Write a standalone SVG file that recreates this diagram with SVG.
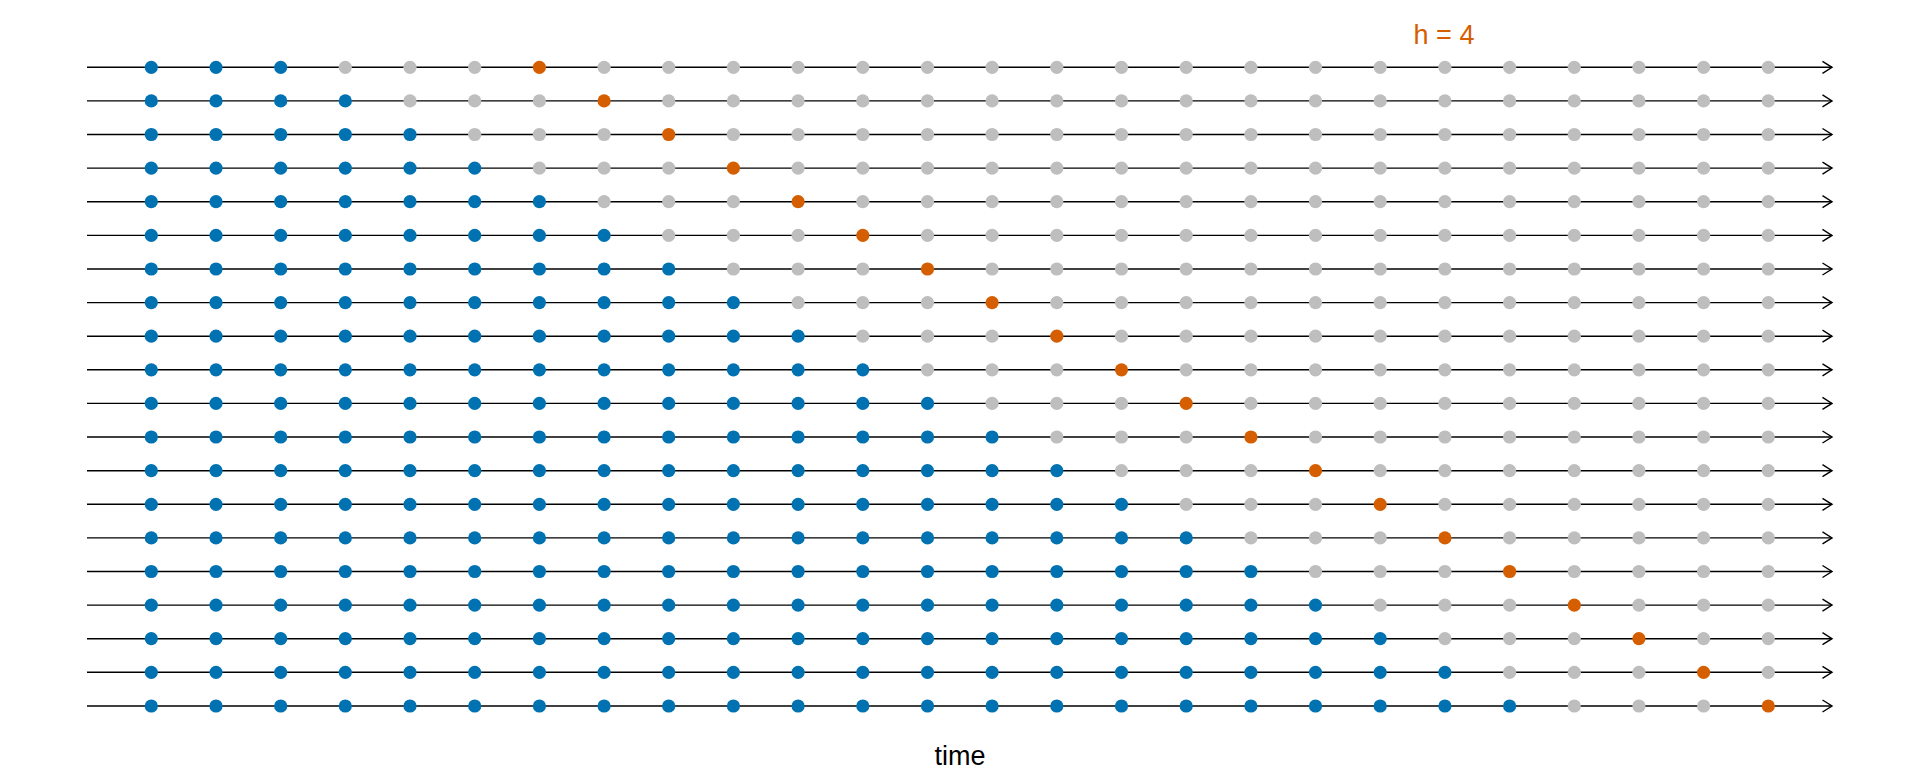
<svg xmlns="http://www.w3.org/2000/svg" width="1920" height="768" viewBox="0 0 1920 768">
<defs>
<style>
.ax{stroke:#000;stroke-width:1.4;fill:none}
.b{fill:#0072B2}
.g{fill:#BEBEBE}
.o{fill:#D55E00}
text{font-family:"Liberation Sans",Arial,sans-serif;font-size:27px;text-anchor:middle}
</style>
<marker id="arr" markerUnits="userSpaceOnUse" markerWidth="14" markerHeight="16" refX="11" refY="8" orient="auto">
<path d="M1.5,2 L11,8 L1.5,14" fill="none" stroke="#000" stroke-width="1.4"/>
</marker>
<circle id="d" r="6.6"/>
</defs>
<rect width="1920" height="768" fill="#fff"/>
<g id="connectors">
<path class="ax" marker-end="url(#arr)" d="M87,67.3H1832"/>
<path class="ax" marker-end="url(#arr)" d="M87,100.9H1832"/>
<path class="ax" marker-end="url(#arr)" d="M87,134.5H1832"/>
<path class="ax" marker-end="url(#arr)" d="M87,168.1H1832"/>
<path class="ax" marker-end="url(#arr)" d="M87,201.7H1832"/>
<path class="ax" marker-end="url(#arr)" d="M87,235.4H1832"/>
<path class="ax" marker-end="url(#arr)" d="M87,269H1832"/>
<path class="ax" marker-end="url(#arr)" d="M87,302.6H1832"/>
<path class="ax" marker-end="url(#arr)" d="M87,336.2H1832"/>
<path class="ax" marker-end="url(#arr)" d="M87,369.8H1832"/>
<path class="ax" marker-end="url(#arr)" d="M87,403.4H1832"/>
<path class="ax" marker-end="url(#arr)" d="M87,437H1832"/>
<path class="ax" marker-end="url(#arr)" d="M87,470.7H1832"/>
<path class="ax" marker-end="url(#arr)" d="M87,504.3H1832"/>
<path class="ax" marker-end="url(#arr)" d="M87,537.9H1832"/>
<path class="ax" marker-end="url(#arr)" d="M87,571.5H1832"/>
<path class="ax" marker-end="url(#arr)" d="M87,605.1H1832"/>
<path class="ax" marker-end="url(#arr)" d="M87,638.7H1832"/>
<path class="ax" marker-end="url(#arr)" d="M87,672.3H1832"/>
<path class="ax" marker-end="url(#arr)" d="M87,706H1832"/>
</g>
<g id="row1" transform="translate(0,67.3)">
<use href="#d" class="b" x="151.3"/><use href="#d" class="b" x="216"/><use href="#d" class="b" x="280.7"/><use href="#d" class="g" x="345.3"/><use href="#d" class="g" x="410"/><use href="#d" class="g" x="474.7"/><use href="#d" class="o" x="539.4"/><use href="#d" class="g" x="604.1"/><use href="#d" class="g" x="668.7"/><use href="#d" class="g" x="733.4"/><use href="#d" class="g" x="798.1"/><use href="#d" class="g" x="862.8"/><use href="#d" class="g" x="927.5"/><use href="#d" class="g" x="992.1"/><use href="#d" class="g" x="1056.8"/><use href="#d" class="g" x="1121.5"/><use href="#d" class="g" x="1186.2"/><use href="#d" class="g" x="1250.9"/><use href="#d" class="g" x="1315.5"/><use href="#d" class="g" x="1380.2"/><use href="#d" class="g" x="1444.9"/><use href="#d" class="g" x="1509.6"/><use href="#d" class="g" x="1574.3"/><use href="#d" class="g" x="1638.9"/><use href="#d" class="g" x="1703.6"/><use href="#d" class="g" x="1768.3"/>
</g>
<g id="row2" transform="translate(0,100.9)">
<use href="#d" class="b" x="151.3"/><use href="#d" class="b" x="216"/><use href="#d" class="b" x="280.7"/><use href="#d" class="b" x="345.3"/><use href="#d" class="g" x="410"/><use href="#d" class="g" x="474.7"/><use href="#d" class="g" x="539.4"/><use href="#d" class="o" x="604.1"/><use href="#d" class="g" x="668.7"/><use href="#d" class="g" x="733.4"/><use href="#d" class="g" x="798.1"/><use href="#d" class="g" x="862.8"/><use href="#d" class="g" x="927.5"/><use href="#d" class="g" x="992.1"/><use href="#d" class="g" x="1056.8"/><use href="#d" class="g" x="1121.5"/><use href="#d" class="g" x="1186.2"/><use href="#d" class="g" x="1250.9"/><use href="#d" class="g" x="1315.5"/><use href="#d" class="g" x="1380.2"/><use href="#d" class="g" x="1444.9"/><use href="#d" class="g" x="1509.6"/><use href="#d" class="g" x="1574.3"/><use href="#d" class="g" x="1638.9"/><use href="#d" class="g" x="1703.6"/><use href="#d" class="g" x="1768.3"/>
</g>
<g id="row3" transform="translate(0,134.5)">
<use href="#d" class="b" x="151.3"/><use href="#d" class="b" x="216"/><use href="#d" class="b" x="280.7"/><use href="#d" class="b" x="345.3"/><use href="#d" class="b" x="410"/><use href="#d" class="g" x="474.7"/><use href="#d" class="g" x="539.4"/><use href="#d" class="g" x="604.1"/><use href="#d" class="o" x="668.7"/><use href="#d" class="g" x="733.4"/><use href="#d" class="g" x="798.1"/><use href="#d" class="g" x="862.8"/><use href="#d" class="g" x="927.5"/><use href="#d" class="g" x="992.1"/><use href="#d" class="g" x="1056.8"/><use href="#d" class="g" x="1121.5"/><use href="#d" class="g" x="1186.2"/><use href="#d" class="g" x="1250.9"/><use href="#d" class="g" x="1315.5"/><use href="#d" class="g" x="1380.2"/><use href="#d" class="g" x="1444.9"/><use href="#d" class="g" x="1509.6"/><use href="#d" class="g" x="1574.3"/><use href="#d" class="g" x="1638.9"/><use href="#d" class="g" x="1703.6"/><use href="#d" class="g" x="1768.3"/>
</g>
<g id="row4" transform="translate(0,168.1)">
<use href="#d" class="b" x="151.3"/><use href="#d" class="b" x="216"/><use href="#d" class="b" x="280.7"/><use href="#d" class="b" x="345.3"/><use href="#d" class="b" x="410"/><use href="#d" class="b" x="474.7"/><use href="#d" class="g" x="539.4"/><use href="#d" class="g" x="604.1"/><use href="#d" class="g" x="668.7"/><use href="#d" class="o" x="733.4"/><use href="#d" class="g" x="798.1"/><use href="#d" class="g" x="862.8"/><use href="#d" class="g" x="927.5"/><use href="#d" class="g" x="992.1"/><use href="#d" class="g" x="1056.8"/><use href="#d" class="g" x="1121.5"/><use href="#d" class="g" x="1186.2"/><use href="#d" class="g" x="1250.9"/><use href="#d" class="g" x="1315.5"/><use href="#d" class="g" x="1380.2"/><use href="#d" class="g" x="1444.9"/><use href="#d" class="g" x="1509.6"/><use href="#d" class="g" x="1574.3"/><use href="#d" class="g" x="1638.9"/><use href="#d" class="g" x="1703.6"/><use href="#d" class="g" x="1768.3"/>
</g>
<g id="row5" transform="translate(0,201.7)">
<use href="#d" class="b" x="151.3"/><use href="#d" class="b" x="216"/><use href="#d" class="b" x="280.7"/><use href="#d" class="b" x="345.3"/><use href="#d" class="b" x="410"/><use href="#d" class="b" x="474.7"/><use href="#d" class="b" x="539.4"/><use href="#d" class="g" x="604.1"/><use href="#d" class="g" x="668.7"/><use href="#d" class="g" x="733.4"/><use href="#d" class="o" x="798.1"/><use href="#d" class="g" x="862.8"/><use href="#d" class="g" x="927.5"/><use href="#d" class="g" x="992.1"/><use href="#d" class="g" x="1056.8"/><use href="#d" class="g" x="1121.5"/><use href="#d" class="g" x="1186.2"/><use href="#d" class="g" x="1250.9"/><use href="#d" class="g" x="1315.5"/><use href="#d" class="g" x="1380.2"/><use href="#d" class="g" x="1444.9"/><use href="#d" class="g" x="1509.6"/><use href="#d" class="g" x="1574.3"/><use href="#d" class="g" x="1638.9"/><use href="#d" class="g" x="1703.6"/><use href="#d" class="g" x="1768.3"/>
</g>
<g id="row6" transform="translate(0,235.4)">
<use href="#d" class="b" x="151.3"/><use href="#d" class="b" x="216"/><use href="#d" class="b" x="280.7"/><use href="#d" class="b" x="345.3"/><use href="#d" class="b" x="410"/><use href="#d" class="b" x="474.7"/><use href="#d" class="b" x="539.4"/><use href="#d" class="b" x="604.1"/><use href="#d" class="g" x="668.7"/><use href="#d" class="g" x="733.4"/><use href="#d" class="g" x="798.1"/><use href="#d" class="o" x="862.8"/><use href="#d" class="g" x="927.5"/><use href="#d" class="g" x="992.1"/><use href="#d" class="g" x="1056.8"/><use href="#d" class="g" x="1121.5"/><use href="#d" class="g" x="1186.2"/><use href="#d" class="g" x="1250.9"/><use href="#d" class="g" x="1315.5"/><use href="#d" class="g" x="1380.2"/><use href="#d" class="g" x="1444.9"/><use href="#d" class="g" x="1509.6"/><use href="#d" class="g" x="1574.3"/><use href="#d" class="g" x="1638.9"/><use href="#d" class="g" x="1703.6"/><use href="#d" class="g" x="1768.3"/>
</g>
<g id="row7" transform="translate(0,269)">
<use href="#d" class="b" x="151.3"/><use href="#d" class="b" x="216"/><use href="#d" class="b" x="280.7"/><use href="#d" class="b" x="345.3"/><use href="#d" class="b" x="410"/><use href="#d" class="b" x="474.7"/><use href="#d" class="b" x="539.4"/><use href="#d" class="b" x="604.1"/><use href="#d" class="b" x="668.7"/><use href="#d" class="g" x="733.4"/><use href="#d" class="g" x="798.1"/><use href="#d" class="g" x="862.8"/><use href="#d" class="o" x="927.5"/><use href="#d" class="g" x="992.1"/><use href="#d" class="g" x="1056.8"/><use href="#d" class="g" x="1121.5"/><use href="#d" class="g" x="1186.2"/><use href="#d" class="g" x="1250.9"/><use href="#d" class="g" x="1315.5"/><use href="#d" class="g" x="1380.2"/><use href="#d" class="g" x="1444.9"/><use href="#d" class="g" x="1509.6"/><use href="#d" class="g" x="1574.3"/><use href="#d" class="g" x="1638.9"/><use href="#d" class="g" x="1703.6"/><use href="#d" class="g" x="1768.3"/>
</g>
<g id="row8" transform="translate(0,302.6)">
<use href="#d" class="b" x="151.3"/><use href="#d" class="b" x="216"/><use href="#d" class="b" x="280.7"/><use href="#d" class="b" x="345.3"/><use href="#d" class="b" x="410"/><use href="#d" class="b" x="474.7"/><use href="#d" class="b" x="539.4"/><use href="#d" class="b" x="604.1"/><use href="#d" class="b" x="668.7"/><use href="#d" class="b" x="733.4"/><use href="#d" class="g" x="798.1"/><use href="#d" class="g" x="862.8"/><use href="#d" class="g" x="927.5"/><use href="#d" class="o" x="992.1"/><use href="#d" class="g" x="1056.8"/><use href="#d" class="g" x="1121.5"/><use href="#d" class="g" x="1186.2"/><use href="#d" class="g" x="1250.9"/><use href="#d" class="g" x="1315.5"/><use href="#d" class="g" x="1380.2"/><use href="#d" class="g" x="1444.9"/><use href="#d" class="g" x="1509.6"/><use href="#d" class="g" x="1574.3"/><use href="#d" class="g" x="1638.9"/><use href="#d" class="g" x="1703.6"/><use href="#d" class="g" x="1768.3"/>
</g>
<g id="row9" transform="translate(0,336.2)">
<use href="#d" class="b" x="151.3"/><use href="#d" class="b" x="216"/><use href="#d" class="b" x="280.7"/><use href="#d" class="b" x="345.3"/><use href="#d" class="b" x="410"/><use href="#d" class="b" x="474.7"/><use href="#d" class="b" x="539.4"/><use href="#d" class="b" x="604.1"/><use href="#d" class="b" x="668.7"/><use href="#d" class="b" x="733.4"/><use href="#d" class="b" x="798.1"/><use href="#d" class="g" x="862.8"/><use href="#d" class="g" x="927.5"/><use href="#d" class="g" x="992.1"/><use href="#d" class="o" x="1056.8"/><use href="#d" class="g" x="1121.5"/><use href="#d" class="g" x="1186.2"/><use href="#d" class="g" x="1250.9"/><use href="#d" class="g" x="1315.5"/><use href="#d" class="g" x="1380.2"/><use href="#d" class="g" x="1444.9"/><use href="#d" class="g" x="1509.6"/><use href="#d" class="g" x="1574.3"/><use href="#d" class="g" x="1638.9"/><use href="#d" class="g" x="1703.6"/><use href="#d" class="g" x="1768.3"/>
</g>
<g id="row10" transform="translate(0,369.8)">
<use href="#d" class="b" x="151.3"/><use href="#d" class="b" x="216"/><use href="#d" class="b" x="280.7"/><use href="#d" class="b" x="345.3"/><use href="#d" class="b" x="410"/><use href="#d" class="b" x="474.7"/><use href="#d" class="b" x="539.4"/><use href="#d" class="b" x="604.1"/><use href="#d" class="b" x="668.7"/><use href="#d" class="b" x="733.4"/><use href="#d" class="b" x="798.1"/><use href="#d" class="b" x="862.8"/><use href="#d" class="g" x="927.5"/><use href="#d" class="g" x="992.1"/><use href="#d" class="g" x="1056.8"/><use href="#d" class="o" x="1121.5"/><use href="#d" class="g" x="1186.2"/><use href="#d" class="g" x="1250.9"/><use href="#d" class="g" x="1315.5"/><use href="#d" class="g" x="1380.2"/><use href="#d" class="g" x="1444.9"/><use href="#d" class="g" x="1509.6"/><use href="#d" class="g" x="1574.3"/><use href="#d" class="g" x="1638.9"/><use href="#d" class="g" x="1703.6"/><use href="#d" class="g" x="1768.3"/>
</g>
<g id="row11" transform="translate(0,403.4)">
<use href="#d" class="b" x="151.3"/><use href="#d" class="b" x="216"/><use href="#d" class="b" x="280.7"/><use href="#d" class="b" x="345.3"/><use href="#d" class="b" x="410"/><use href="#d" class="b" x="474.7"/><use href="#d" class="b" x="539.4"/><use href="#d" class="b" x="604.1"/><use href="#d" class="b" x="668.7"/><use href="#d" class="b" x="733.4"/><use href="#d" class="b" x="798.1"/><use href="#d" class="b" x="862.8"/><use href="#d" class="b" x="927.5"/><use href="#d" class="g" x="992.1"/><use href="#d" class="g" x="1056.8"/><use href="#d" class="g" x="1121.5"/><use href="#d" class="o" x="1186.2"/><use href="#d" class="g" x="1250.9"/><use href="#d" class="g" x="1315.5"/><use href="#d" class="g" x="1380.2"/><use href="#d" class="g" x="1444.9"/><use href="#d" class="g" x="1509.6"/><use href="#d" class="g" x="1574.3"/><use href="#d" class="g" x="1638.9"/><use href="#d" class="g" x="1703.6"/><use href="#d" class="g" x="1768.3"/>
</g>
<g id="row12" transform="translate(0,437)">
<use href="#d" class="b" x="151.3"/><use href="#d" class="b" x="216"/><use href="#d" class="b" x="280.7"/><use href="#d" class="b" x="345.3"/><use href="#d" class="b" x="410"/><use href="#d" class="b" x="474.7"/><use href="#d" class="b" x="539.4"/><use href="#d" class="b" x="604.1"/><use href="#d" class="b" x="668.7"/><use href="#d" class="b" x="733.4"/><use href="#d" class="b" x="798.1"/><use href="#d" class="b" x="862.8"/><use href="#d" class="b" x="927.5"/><use href="#d" class="b" x="992.1"/><use href="#d" class="g" x="1056.8"/><use href="#d" class="g" x="1121.5"/><use href="#d" class="g" x="1186.2"/><use href="#d" class="o" x="1250.9"/><use href="#d" class="g" x="1315.5"/><use href="#d" class="g" x="1380.2"/><use href="#d" class="g" x="1444.9"/><use href="#d" class="g" x="1509.6"/><use href="#d" class="g" x="1574.3"/><use href="#d" class="g" x="1638.9"/><use href="#d" class="g" x="1703.6"/><use href="#d" class="g" x="1768.3"/>
</g>
<g id="row13" transform="translate(0,470.7)">
<use href="#d" class="b" x="151.3"/><use href="#d" class="b" x="216"/><use href="#d" class="b" x="280.7"/><use href="#d" class="b" x="345.3"/><use href="#d" class="b" x="410"/><use href="#d" class="b" x="474.7"/><use href="#d" class="b" x="539.4"/><use href="#d" class="b" x="604.1"/><use href="#d" class="b" x="668.7"/><use href="#d" class="b" x="733.4"/><use href="#d" class="b" x="798.1"/><use href="#d" class="b" x="862.8"/><use href="#d" class="b" x="927.5"/><use href="#d" class="b" x="992.1"/><use href="#d" class="b" x="1056.8"/><use href="#d" class="g" x="1121.5"/><use href="#d" class="g" x="1186.2"/><use href="#d" class="g" x="1250.9"/><use href="#d" class="o" x="1315.5"/><use href="#d" class="g" x="1380.2"/><use href="#d" class="g" x="1444.9"/><use href="#d" class="g" x="1509.6"/><use href="#d" class="g" x="1574.3"/><use href="#d" class="g" x="1638.9"/><use href="#d" class="g" x="1703.6"/><use href="#d" class="g" x="1768.3"/>
</g>
<g id="row14" transform="translate(0,504.3)">
<use href="#d" class="b" x="151.3"/><use href="#d" class="b" x="216"/><use href="#d" class="b" x="280.7"/><use href="#d" class="b" x="345.3"/><use href="#d" class="b" x="410"/><use href="#d" class="b" x="474.7"/><use href="#d" class="b" x="539.4"/><use href="#d" class="b" x="604.1"/><use href="#d" class="b" x="668.7"/><use href="#d" class="b" x="733.4"/><use href="#d" class="b" x="798.1"/><use href="#d" class="b" x="862.8"/><use href="#d" class="b" x="927.5"/><use href="#d" class="b" x="992.1"/><use href="#d" class="b" x="1056.8"/><use href="#d" class="b" x="1121.5"/><use href="#d" class="g" x="1186.2"/><use href="#d" class="g" x="1250.9"/><use href="#d" class="g" x="1315.5"/><use href="#d" class="o" x="1380.2"/><use href="#d" class="g" x="1444.9"/><use href="#d" class="g" x="1509.6"/><use href="#d" class="g" x="1574.3"/><use href="#d" class="g" x="1638.9"/><use href="#d" class="g" x="1703.6"/><use href="#d" class="g" x="1768.3"/>
</g>
<g id="row15" transform="translate(0,537.9)">
<use href="#d" class="b" x="151.3"/><use href="#d" class="b" x="216"/><use href="#d" class="b" x="280.7"/><use href="#d" class="b" x="345.3"/><use href="#d" class="b" x="410"/><use href="#d" class="b" x="474.7"/><use href="#d" class="b" x="539.4"/><use href="#d" class="b" x="604.1"/><use href="#d" class="b" x="668.7"/><use href="#d" class="b" x="733.4"/><use href="#d" class="b" x="798.1"/><use href="#d" class="b" x="862.8"/><use href="#d" class="b" x="927.5"/><use href="#d" class="b" x="992.1"/><use href="#d" class="b" x="1056.8"/><use href="#d" class="b" x="1121.5"/><use href="#d" class="b" x="1186.2"/><use href="#d" class="g" x="1250.9"/><use href="#d" class="g" x="1315.5"/><use href="#d" class="g" x="1380.2"/><use href="#d" class="o" x="1444.9"/><use href="#d" class="g" x="1509.6"/><use href="#d" class="g" x="1574.3"/><use href="#d" class="g" x="1638.9"/><use href="#d" class="g" x="1703.6"/><use href="#d" class="g" x="1768.3"/>
</g>
<g id="row16" transform="translate(0,571.5)">
<use href="#d" class="b" x="151.3"/><use href="#d" class="b" x="216"/><use href="#d" class="b" x="280.7"/><use href="#d" class="b" x="345.3"/><use href="#d" class="b" x="410"/><use href="#d" class="b" x="474.7"/><use href="#d" class="b" x="539.4"/><use href="#d" class="b" x="604.1"/><use href="#d" class="b" x="668.7"/><use href="#d" class="b" x="733.4"/><use href="#d" class="b" x="798.1"/><use href="#d" class="b" x="862.8"/><use href="#d" class="b" x="927.5"/><use href="#d" class="b" x="992.1"/><use href="#d" class="b" x="1056.8"/><use href="#d" class="b" x="1121.5"/><use href="#d" class="b" x="1186.2"/><use href="#d" class="b" x="1250.9"/><use href="#d" class="g" x="1315.5"/><use href="#d" class="g" x="1380.2"/><use href="#d" class="g" x="1444.9"/><use href="#d" class="o" x="1509.6"/><use href="#d" class="g" x="1574.3"/><use href="#d" class="g" x="1638.9"/><use href="#d" class="g" x="1703.6"/><use href="#d" class="g" x="1768.3"/>
</g>
<g id="row17" transform="translate(0,605.1)">
<use href="#d" class="b" x="151.3"/><use href="#d" class="b" x="216"/><use href="#d" class="b" x="280.7"/><use href="#d" class="b" x="345.3"/><use href="#d" class="b" x="410"/><use href="#d" class="b" x="474.7"/><use href="#d" class="b" x="539.4"/><use href="#d" class="b" x="604.1"/><use href="#d" class="b" x="668.7"/><use href="#d" class="b" x="733.4"/><use href="#d" class="b" x="798.1"/><use href="#d" class="b" x="862.8"/><use href="#d" class="b" x="927.5"/><use href="#d" class="b" x="992.1"/><use href="#d" class="b" x="1056.8"/><use href="#d" class="b" x="1121.5"/><use href="#d" class="b" x="1186.2"/><use href="#d" class="b" x="1250.9"/><use href="#d" class="b" x="1315.5"/><use href="#d" class="g" x="1380.2"/><use href="#d" class="g" x="1444.9"/><use href="#d" class="g" x="1509.6"/><use href="#d" class="o" x="1574.3"/><use href="#d" class="g" x="1638.9"/><use href="#d" class="g" x="1703.6"/><use href="#d" class="g" x="1768.3"/>
</g>
<g id="row18" transform="translate(0,638.7)">
<use href="#d" class="b" x="151.3"/><use href="#d" class="b" x="216"/><use href="#d" class="b" x="280.7"/><use href="#d" class="b" x="345.3"/><use href="#d" class="b" x="410"/><use href="#d" class="b" x="474.7"/><use href="#d" class="b" x="539.4"/><use href="#d" class="b" x="604.1"/><use href="#d" class="b" x="668.7"/><use href="#d" class="b" x="733.4"/><use href="#d" class="b" x="798.1"/><use href="#d" class="b" x="862.8"/><use href="#d" class="b" x="927.5"/><use href="#d" class="b" x="992.1"/><use href="#d" class="b" x="1056.8"/><use href="#d" class="b" x="1121.5"/><use href="#d" class="b" x="1186.2"/><use href="#d" class="b" x="1250.9"/><use href="#d" class="b" x="1315.5"/><use href="#d" class="b" x="1380.2"/><use href="#d" class="g" x="1444.9"/><use href="#d" class="g" x="1509.6"/><use href="#d" class="g" x="1574.3"/><use href="#d" class="o" x="1638.9"/><use href="#d" class="g" x="1703.6"/><use href="#d" class="g" x="1768.3"/>
</g>
<g id="row19" transform="translate(0,672.3)">
<use href="#d" class="b" x="151.3"/><use href="#d" class="b" x="216"/><use href="#d" class="b" x="280.7"/><use href="#d" class="b" x="345.3"/><use href="#d" class="b" x="410"/><use href="#d" class="b" x="474.7"/><use href="#d" class="b" x="539.4"/><use href="#d" class="b" x="604.1"/><use href="#d" class="b" x="668.7"/><use href="#d" class="b" x="733.4"/><use href="#d" class="b" x="798.1"/><use href="#d" class="b" x="862.8"/><use href="#d" class="b" x="927.5"/><use href="#d" class="b" x="992.1"/><use href="#d" class="b" x="1056.8"/><use href="#d" class="b" x="1121.5"/><use href="#d" class="b" x="1186.2"/><use href="#d" class="b" x="1250.9"/><use href="#d" class="b" x="1315.5"/><use href="#d" class="b" x="1380.2"/><use href="#d" class="b" x="1444.9"/><use href="#d" class="g" x="1509.6"/><use href="#d" class="g" x="1574.3"/><use href="#d" class="g" x="1638.9"/><use href="#d" class="o" x="1703.6"/><use href="#d" class="g" x="1768.3"/>
</g>
<g id="row20" transform="translate(0,706)">
<use href="#d" class="b" x="151.3"/><use href="#d" class="b" x="216"/><use href="#d" class="b" x="280.7"/><use href="#d" class="b" x="345.3"/><use href="#d" class="b" x="410"/><use href="#d" class="b" x="474.7"/><use href="#d" class="b" x="539.4"/><use href="#d" class="b" x="604.1"/><use href="#d" class="b" x="668.7"/><use href="#d" class="b" x="733.4"/><use href="#d" class="b" x="798.1"/><use href="#d" class="b" x="862.8"/><use href="#d" class="b" x="927.5"/><use href="#d" class="b" x="992.1"/><use href="#d" class="b" x="1056.8"/><use href="#d" class="b" x="1121.5"/><use href="#d" class="b" x="1186.2"/><use href="#d" class="b" x="1250.9"/><use href="#d" class="b" x="1315.5"/><use href="#d" class="b" x="1380.2"/><use href="#d" class="b" x="1444.9"/><use href="#d" class="b" x="1509.6"/><use href="#d" class="g" x="1574.3"/><use href="#d" class="g" x="1638.9"/><use href="#d" class="g" x="1703.6"/><use href="#d" class="o" x="1768.3"/>
</g>
<g id="labels">
<text x="1444" y="44" fill="#D55E00">h = 4</text>
<text x="960" y="765" fill="#000">time</text>
</g>
</svg>
